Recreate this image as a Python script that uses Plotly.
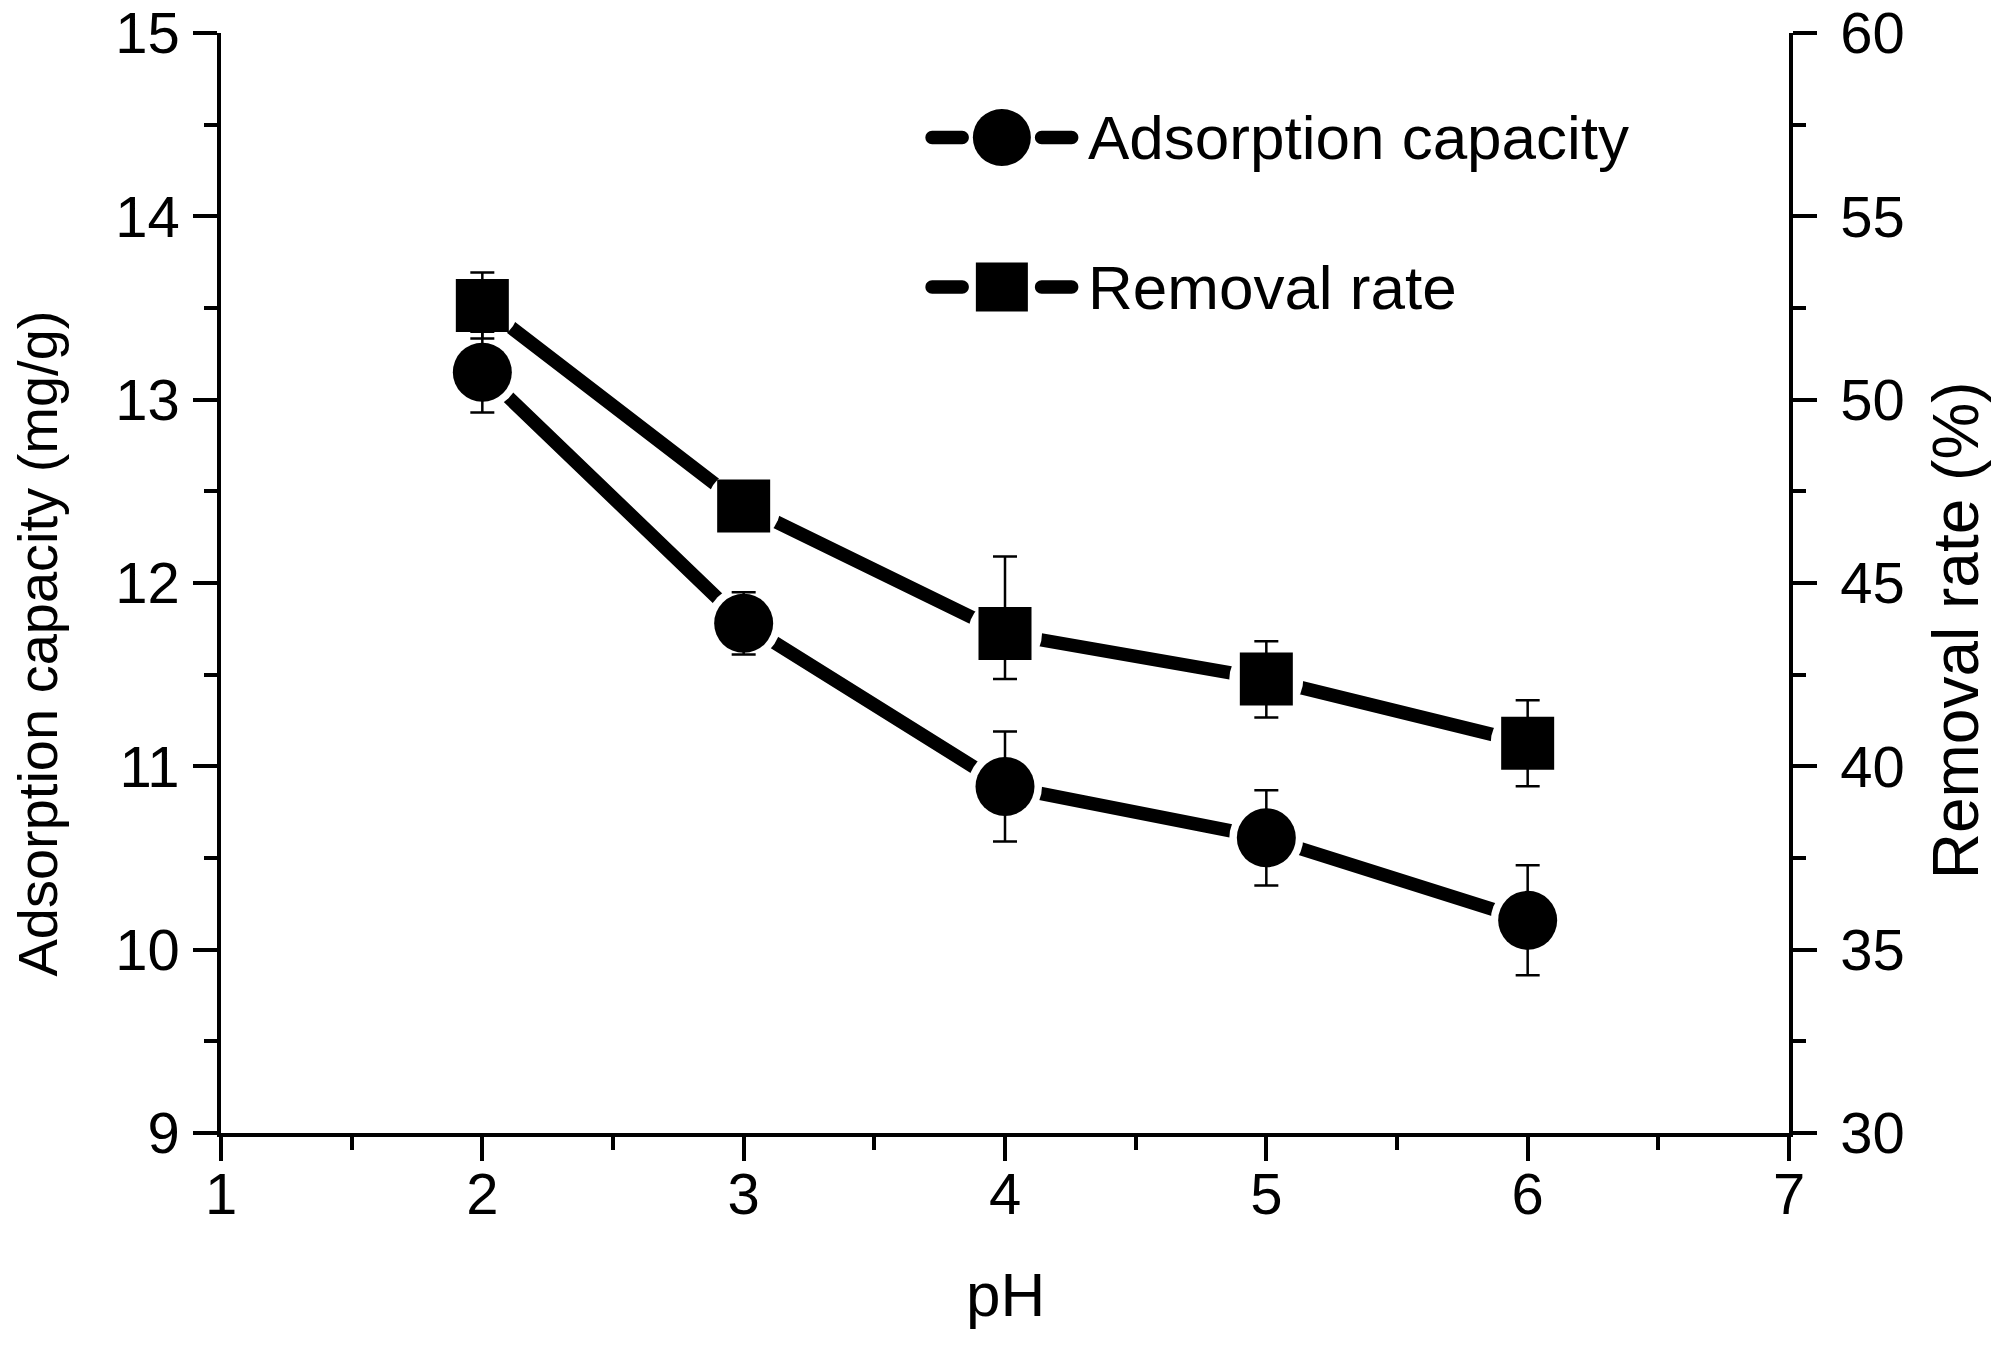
import plotly.graph_objects as go

# ---- data ----
ph = [2, 3, 4, 5, 6]
capacity = [13.15, 11.78, 10.89, 10.61, 10.16]          # mg/g (left axis)
capacity_err = [0.22, 0.17, 0.30, 0.26, 0.30]
removal = [52.57, 47.10, 43.62, 42.38, 40.63]            # % (right axis)
removal_err_plus = [0.90, 0.40, 2.10, 1.03, 1.17]
removal_err_minus = [0.90, 0.40, 1.24, 1.05, 1.17]

x_ticks = [1, 2, 3, 4, 5, 6, 7]
left_ticks = [9, 10, 11, 12, 13, 14, 15]
right_ticks = [30, 35, 40, 45, 50, 55, 60]

FONT = "Liberation Sans, Arial, sans-serif"
LW = 13.5          # connecting line width
MASK = 74          # white gap around markers
CIRCLE = 59
SQUARE = 53

fig = go.Figure()

# connecting lines + white masks (gaps around the symbols)
fig.add_trace(go.Scatter(x=ph, y=capacity, mode="lines", line=dict(color="black", width=LW),
                         showlegend=False, hoverinfo="skip", yaxis="y"))
fig.add_trace(go.Scatter(x=ph, y=capacity, mode="markers",
                         marker=dict(symbol="circle", size=MASK, color="white", line=dict(width=0)),
                         showlegend=False, hoverinfo="skip", yaxis="y"))

fig.add_trace(go.Scatter(x=ph, y=removal, mode="lines", line=dict(color="black", width=LW),
                         showlegend=False, hoverinfo="skip", yaxis="y2"))
fig.add_trace(go.Scatter(x=ph, y=removal, mode="markers",
                         marker=dict(symbol="circle", size=MASK, color="white", line=dict(width=0)),
                         showlegend=False, hoverinfo="skip", yaxis="y2"))
fig.add_trace(go.Scatter(x=ph, y=removal, mode="markers", name="Removal rate",
                         marker=dict(symbol="square", size=SQUARE, color="black", line=dict(width=0)),
                         error_y=dict(type="data", symmetric=False, array=removal_err_plus,
                                      arrayminus=removal_err_minus, color="black",
                                      thickness=2.5, width=12),
                         showlegend=False, yaxis="y2"))
fig.add_trace(go.Scatter(x=ph, y=capacity, mode="markers", name="Adsorption capacity",
                         marker=dict(symbol="circle", size=CIRCLE, color="black", line=dict(width=0)),
                         error_y=dict(type="data", array=capacity_err, color="black",
                                      thickness=2.5, width=12),
                         showlegend=False, yaxis="y3"))

axis_common = dict(showline=True, linecolor="black", linewidth=3.5, ticks="outside",
                   ticklen=24, tickwidth=3.5, tickcolor="black", showgrid=False,
                   zeroline=False, automargin=False,
                   tickfont=dict(family=FONT, size=58, color="black"))

fig.update_layout(
    width=1995, height=1347, autosize=False,
    margin=dict(l=221, r=206, t=33, b=214),
    paper_bgcolor="white", plot_bgcolor="white",
    font=dict(family=FONT, color="black"),
    showlegend=False,
    xaxis=dict(range=[1, 7], tickvals=x_ticks, ticklabelstandoff=-16,
               minor=dict(dtick=0.5, ticklen=13, tickwidth=3.5, tickcolor="black", ticks="outside"),
               **axis_common),
    yaxis=dict(range=[9, 15], tickvals=left_ticks, ticklabelstandoff=2,
               minor=dict(dtick=0.5, ticklen=13, tickwidth=3.5, tickcolor="black", ticks="outside"),
               **axis_common),
    yaxis2=dict(range=[30, 60], tickvals=right_ticks, overlaying="y", side="right", ticklabelstandoff=12,
                minor=dict(dtick=2.5, ticklen=13, tickwidth=3.5, tickcolor="black", ticks="outside"),
                **axis_common),
    yaxis3=dict(range=[9, 15], overlaying="y", visible=False, automargin=False),
)

# ---- axis titles (placed as in the original) ----
fig.add_annotation(text="Adsorption capacity (mg/g)", xref="paper", yref="paper",
                   x=-0.117, y=0.4445, xanchor="center", yanchor="middle", textangle=-90,
                   showarrow=False, font=dict(family=FONT, size=56, color="black"))
fig.add_annotation(text="Removal rate (%)", xref="paper", yref="paper",
                   x=1.1065, y=0.457, xanchor="center", yanchor="middle", textangle=-90,
                   showarrow=False, font=dict(family=FONT, size=64, color="black"))
fig.add_annotation(text="pH", xref="paper", yref="paper",
                   x=0.5, y=-0.1467, xanchor="center", yanchor="middle",
                   showarrow=False, font=dict(family=FONT, size=62, color="black"))

# ---- custom legend (symbols with gaps, like the original) ----
def capsule(a, b, r=6.75):
    k = 0.5523 * r
    return (f"M{a + r},{-r} L{b - r},{-r} C{b - r + k},{-r} {b},{-k} {b},0 "
            f"C{b},{k} {b - r + k},{r} {b - r},{r} L{a + r},{r} "
            f"C{a + r - k},{r} {a},{k} {a},0 C{a},{-k} {a + r - k},{-r} {a + r},{-r} Z")

legend_items = [("Adsorption capacity", "circle", 0.498, 0.905),
                ("Removal rate", "rect", 0.498, 0.769)]
for label, kind, lx, ly in legend_items:
    base = dict(xref="paper", yref="paper", xsizemode="pixel", ysizemode="pixel",
                xanchor=lx, yanchor=ly, fillcolor="black", line=dict(width=0), layer="above")
    for a, b in [(-76.5, -33), (33, 76.5)]:
        fig.add_shape(type="path", path=capsule(a, b), **base)
    if kind == "circle":
        fig.add_shape(type="circle", x0=-29, x1=29, y0=-28.5, y1=28.5, **base)
    else:
        fig.add_shape(type="rect", x0=-26, x1=26, y0=-24.5, y1=24.5, **base)
    fig.add_annotation(text=label, xref="paper", yref="paper", x=0.5515, y=ly,
                       xanchor="left", yanchor="middle", showarrow=False,
                       font=dict(family=FONT, size=62, color="black"))

# remove the default page margin so the figure sits at the window's top-left corner
fig.write_html("out.html", config={"displayModeBar": False},
               post_script="document.body.style.margin='0';document.body.style.overflow='hidden';")
